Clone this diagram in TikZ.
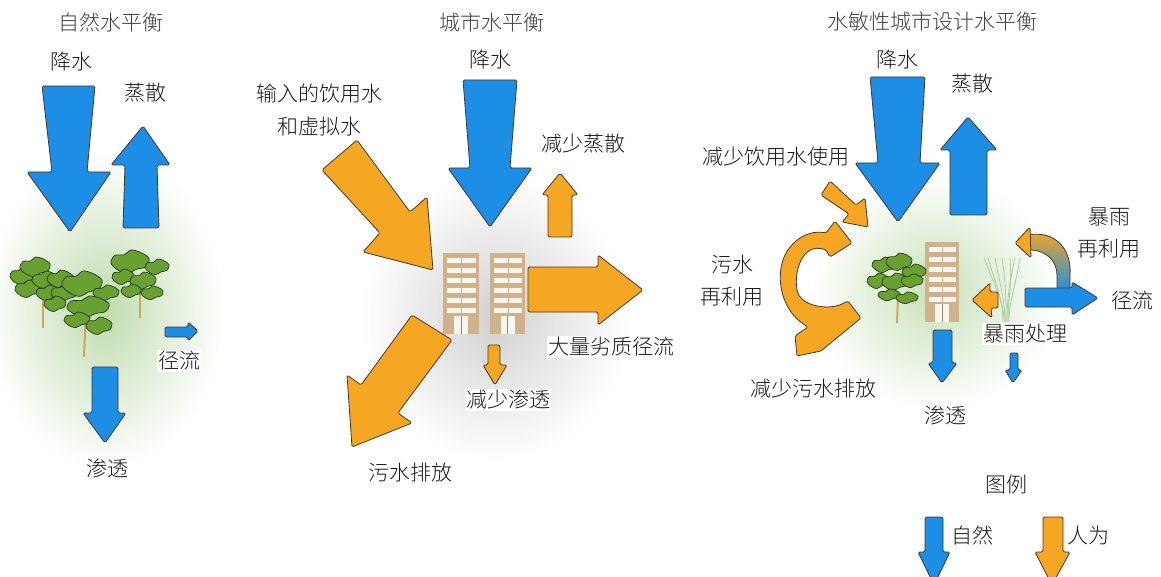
\documentclass[tikz,border=0pt]{standalone}
\usepackage{fontspec}
\IfFontExistsTF{Noto Sans CJK SC Light}
  {\newfontfamily\cjk{Noto Sans CJK SC Light}}
  {\newfontfamily\cjk{Noto Sans CJK SC}}
\definecolor{wblue}{RGB}{28,142,230}
\definecolor{worange}{RGB}{245,166,35}
\definecolor{edge}{RGB}{70,55,40}
\definecolor{bldg}{RGB}{207,178,140}
\definecolor{winc}{RGB}{250,247,240}
\definecolor{leafg}{RGB}{104,160,50}
\definecolor{leafe}{RGB}{38,58,20}
\definecolor{trunkc}{RGB}{200,168,95}
\definecolor{grassc}{RGB}{168,205,160}
\tikzset{
  natural/.style={fill=wblue, draw=edge, line width=0.8pt, line join=round, rounded corners=1.5pt},
  human/.style={fill=worange, draw=edge, line width=0.8pt, line join=round, rounded corners=1.5pt},
  lbl/.style={font=\cjk\fontsize{21}{25}\selectfont, text=black!90, inner sep=1pt, fill=white},
  ttl/.style={font=\cjk\fontsize{21}{25}\selectfont, text=black!75, inner sep=1pt},
}
% one irregular leaf cluster: centre x, centre y, half width, half height
\newcommand\foliage[4]{%
  \filldraw[fill=leafg, draw=leafe, line width=0.7pt, shift={(#1,#2)}, xscale=#3, yscale=#4]
    plot[smooth cycle, tension=0.55] coordinates {(-1,0.1) (-0.8,-0.55) (-0.3,-0.6) (0.05,-1) (0.55,-0.8) (1,-0.3) (0.85,0.4) (0.35,0.6) (-0.1,0.95) (-0.6,0.7)};}
% an office tower: left x, top y, width, height
\newcommand\tower[4]{%
  \fill[bldg] (#1,#2) rectangle ++(#3,#4);
  \foreach \r in {0,...,5}{%
    \fill[winc] ({#1+0.11*#3},{#2+5+10*\r}) rectangle ++({0.39*#3},5);
    \fill[winc] ({#1+0.53*#3},{#2+5+10*\r}) rectangle ++({0.39*#3},5);}
  \fill[winc] ({#1+0.3*#3},{#2+#4-18}) rectangle ++({0.4*#3},18);
  \draw[bldg!75!black, line width=0.3pt] ({#1+0.5*#3},{#2+#4-18}) -- ++(0,18);}
\begin{document}
\begin{tikzpicture}[x=1pt,y=-1pt]
\useasboundingbox (0,0) rectangle (1161,577);
\clip (0,0) rectangle (1161,577);
\fill[white] (0,0) rectangle (1161,577);

% soft glows behind each scene
\shade[inner color={rgb,255:red,192;green,220;blue,175}, outer color=white] (105,310) ellipse [x radius=120, y radius=160];
\shade[inner color=black!18, outer color=white] (495,318) ellipse [x radius=135, y radius=145];
\shade[inner color={rgb,255:red,200;green,226;blue,185}, outer color=white] (935,292) ellipse [x radius=125, y radius=120];

% ---------------- natural water balance ----------------
\node[ttl] (t1) at (111,22) {自然水平衡};
\node[lbl] (n1rain) at (71,62) {降水};
\node[lbl] (n1evap) at (145,93) {蒸散};
\node[lbl] (n1run) at (179,361) {径流};
\node[lbl] (n1inf) at (107,468) {渗透};

\draw[natural] (42,86) -- (95,86) -- (87,172) -- (111,172) -- (70,232) -- (27,172) -- (52,172) -- cycle;
\draw[natural] (123,228) -- (125,165) -- (111,165) -- (143,126) -- (170,165) -- (157,165) -- (159,228) -- cycle;
\draw[natural] (165,327) -- (188,327) -- (188,322) -- (198,331) -- (188,341) -- (188,337) -- (165,337) -- cycle;
\draw[natural] (92,367) -- (118,367) -- (118,413) -- (126,413) -- (105,443) -- (83,413) -- (92,413) -- cycle;

% trees
\draw[trunkc, line width=2pt] (43,296) -- (43,328);
\draw[trunkc, line width=2pt] (86,310) -- (84,357);
\draw[trunkc, line width=2pt] (140,283) -- (140,318);
\foliage{22}{276}{12}{9}
\foliage{35}{267}{15}{10}
\foliage{28}{289}{13}{9}
\foliage{45}{280}{13}{9}
\foliage{60}{279}{13}{9}
\foliage{48}{293}{12}{8}
\foliage{64}{293}{13}{9}
\foliage{82}{284}{20}{13}
\foliage{106}{293}{13}{8}
\foliage{55}{304}{11}{8}
\foliage{88}{307}{21}{11}
\foliage{77}{320}{13}{8}
\foliage{99}{326}{13}{9}
\foliage{130}{262}{19}{12}
\foliage{157}{267}{12}{8}
\foliage{123}{277}{11}{8}
\foliage{143}{281}{13}{9}
\foliage{131}{291}{10}{7}
\foliage{152}{293}{11}{7}

% ---------------- urban water balance ----------------
\node[ttl] (t2) at (492,22) {城市水平衡};
\node[lbl] (n2rain) at (490,60) {降水};
\node[lbl, align=center, font=\cjk\fontsize{21}{33}\selectfont] (n2import) at (319,110) {输入的饮用水\\和虚拟水};
\node[lbl] (n2evap) at (583,144) {减少蒸散};
\node[lbl] (n2run) at (611,347) {大量劣质径流};
\node[lbl] (n2inf) at (508,400) {减少渗透};
\node[lbl] (n2sew) at (410,473) {污水排放};

\tower{443}{253}{36}{81}
\tower{490}{253}{35}{81}

\draw[natural] (463,80) -- (517,80) -- (510,168) -- (532,168) -- (490,227) -- (448,168) -- (470,168) -- cycle;
\draw[human] (357,140) -- (410,212) -- (427,197) -- (433,270) -- (363,252) -- (380,233) -- (322,170) -- cycle;
\draw[human] (548,237) -- (548,195) -- (542,195) -- (560,173) -- (578,195) -- (572,195) -- (572,237) -- cycle;
\draw[human] (528,267) -- (598,267) -- (598,255) -- (643,290) -- (598,325) -- (598,312) -- (528,312) -- cycle;
\draw[human] (488,345) -- (500,345) -- (500,365) -- (507,365) -- (495,385) -- (483,365) -- (488,365) -- cycle;
\draw[human] (412,315) -- (452,340) -- (398,413) -- (412,423) -- (352,447) -- (347,375) -- (361,385) -- cycle;

% ---------------- water sensitive urban design ----------------
\node[ttl] (t3) at (932,22) {水敏性城市设计水平衡};
\node[lbl] (n3rain) at (897,60) {降水};
\node[lbl] (n3evap) at (972,84) {蒸散};
\node[lbl] (n3less) at (776,157) {减少饮用水使用};
\node[lbl, align=center, font=\cjk\fontsize{21}{32}\selectfont] (n3reuse) at (732,281) {污水\\再利用};
\node[lbl] (n3sew) at (813,389) {减少污水排放};
\node[lbl] (n3inf) at (945,415) {渗透};
\node[lbl] (n3treat) at (1025,334) {暴雨处理};
\node[lbl, align=center, font=\cjk\fontsize{21}{32}\selectfont] (n3storm) at (1109,233) {暴雨\\再利用};
\node[lbl] (n3run) at (1132,301) {径流};

% reed clump
\foreach \a/\b/\c in {1003/996/988, 1005/1000/995, 1006/1006/1002, 1008/1012/1010, 1009/1016/1020, 1004/994/984, 1007/1009/1015}{
  \draw[grassc, line width=0.8pt] (\a,322) .. controls (\a,300) and (\b,285) .. (\c,258);}
\tower{925}{242}{34}{80}
% tree beside the tower
\draw[trunkc, line width=2pt] (898,296) -- (897,323);
\foliage{884}{265}{12}{8}
\foliage{899}{262}{13}{9}
\foliage{914}{272}{12}{8}
\foliage{878}{281}{11}{8}
\foliage{895}{282}{13}{9}
\foliage{912}{281}{11}{7}
\foliage{889}{295}{11}{6}
\foliage{907}{298}{11}{6}

\draw[natural] (870,77) -- (925,77) -- (920,163) -- (940,163) -- (898,222) -- (855,163) -- (878,163) -- cycle;
\draw[natural] (950,215) -- (950,150) -- (940,150) -- (968,117) -- (997,150) -- (987,150) -- (987,215) -- cycle;
\draw[human] (830,181) -- (856,205) -- (865,198) -- (868,227) -- (842,222) -- (849,214) -- (821,195) -- cycle;
% recycling loop on the left
\draw[human] (835,221) -- (852,243) -- (830,257) -- (826,250)
   .. controls (803,242) and (794,270) .. (797,290)
   .. controls (800,304) and (822,310) .. (840,305)
   -- (848,301) -- (861,318) -- (821,351) -- (797,356) -- (795,336) -- (808,327)
   .. controls (786,314) and (778,290) .. (781,268)
   .. controls (785,245) and (805,229) .. (826,233) -- cycle;
\draw[natural] (933,330) -- (952,330) -- (952,363) -- (957,363) -- (942,383) -- (928,363) -- (933,363) -- cycle;
\draw[human] (998,292) -- (990,292) -- (990,283) -- (972,300) -- (992,318) -- (991,308) -- (998,308) -- cycle;
\draw[natural] (1010,353) -- (1018,353) -- (1018,370) -- (1022,370) -- (1013,383) -- (1005,370) -- (1010,370) -- cycle;
% stormwater loop on the right
\shade[top color=worange, middle color=worange, bottom color=wblue]
  (1028,235) .. controls (1056,230) and (1072,250) .. (1070,275) -- (1070,292) -- (1057,292) -- (1057,275) .. controls (1057,262) and (1047,250) .. (1030,250) -- cycle;
\draw[edge, line width=0.8pt]
  (1028,235) .. controls (1056,230) and (1072,250) .. (1070,275) -- (1070,292)
  (1057,292) -- (1057,275) .. controls (1057,262) and (1047,250) .. (1030,250);
\draw[human] (1030,227) -- (1015,243) -- (1031,258) -- cycle;
\draw[natural] (1025,288) -- (1072,288) -- (1072,282) -- (1098,298) -- (1072,315) -- (1072,307) -- (1025,307) -- cycle;

% ---------------- legend ----------------
\node[lbl] (lg) at (1006,485) {图例};
\node[lbl] (lgnat) at (972,535) {自然};
\node[lbl] (lghum) at (1088,535) {人为};
\draw[natural] (925,517) -- (943,517) -- (943,552) -- (950,552) -- (934,585) -- (918,552) -- (925,552) -- cycle;
\draw[human] (1043,517) -- (1063,517) -- (1063,552) -- (1070,552) -- (1052,585) -- (1035,552) -- (1043,552) -- cycle;
\end{tikzpicture}
\end{document}
